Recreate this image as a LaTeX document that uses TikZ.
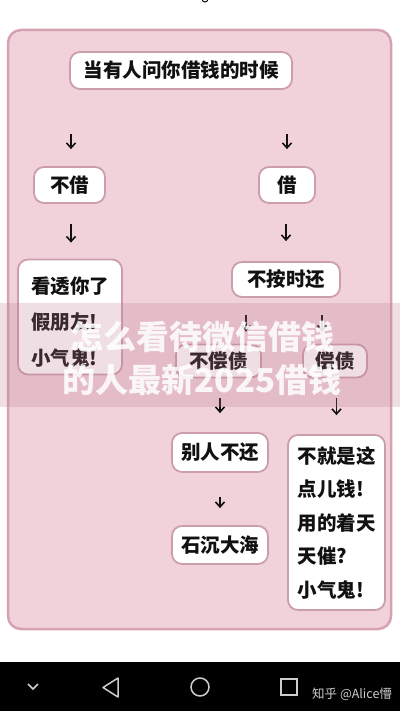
\documentclass[tikz,border=0pt]{standalone}
\usepackage{fontspec}
\setmainfont{Noto Sans CJK SC}
\usetikzlibrary{arrows.meta}
\definecolor{panelfill}{RGB}{241,210,218}
\definecolor{panelline}{RGB}{214,162,176}
\definecolor{boxline}{RGB}{204,158,170}
\definecolor{ink}{RGB}{17,17,17}
\definecolor{navgray}{RGB}{205,205,205}
\definecolor{bandcol}{RGB}{190,120,140}
\begin{document}
\begin{tikzpicture}[x=1pt,y=-1pt,
  box/.style={draw=boxline, line width=1.8pt, fill=white, rounded corners=10pt,
    inner sep=0pt, font=\fontsize{19.5}{22}\selectfont\bfseries, text=ink},
  arr/.style={draw=ink, line width=1.6pt,
    -{Straight Barb[length=5pt,width=9pt,line width=1.6pt]}},
  navicon/.style={draw=navgray, line width=1.5pt}]
\useasboundingbox (0,0) rectangle (400,711);
\fill[white] (0,0) rectangle (400,711);
% tiny cut-off mark at top
\draw[ink, line width=1pt] (205,-1) circle (3);
% panel
\draw[fill=panelfill, draw=panelline, line width=2.5pt, rounded corners=13pt]
  (8,30) rectangle (391,629);
% nodes
\node[box, minimum width=222pt, minimum height=37pt] (top) at (181,70.5) {当有人问你借钱的时候};
\node[box, minimum width=71pt, minimum height=36pt] (nb) at (69.5,185) {不借};
\node[box, minimum width=56pt, minimum height=36pt] (jie) at (287,185) {借};
\node[box, minimum width=104pt, minimum height=115pt, align=left,
  font=\fontsize{19.5}{36}\selectfont\bfseries] (kt) at (70,317) {\rule{0pt}{26pt}看透你了\\假朋友!\\小气鬼!};
\node[box, minimum width=108pt, minimum height=35pt] (buan) at (286,279.5) {不按时还};
\node[box, minimum width=85pt, minimum height=33pt] (bch) at (218.5,361) {不偿债};
\node[box, minimum width=64pt, minimum height=33pt] (ch) at (335,361) {偿债};
\node[box, minimum width=96pt, minimum height=39pt] (br) at (220,452.5) {别人不还};
\node[box, minimum width=96pt, minimum height=38pt] (sc) at (220,545) {石沉大海};
\node[box, minimum width=97pt, minimum height=175pt, align=left,
  font=\fontsize{19.5}{33.5}\selectfont\bfseries] (tall) at (336.5,522.5)
  {不就是这\\点儿钱!\\用的着天\\天催?\\小气鬼!};
% arrows
\draw[arr, shorten <=44pt, shorten >=17pt] (top.south -| 71,0) -- (nb.north -| 71,0);
\draw[arr, shorten <=44pt, shorten >=17pt] (top.south -| jie.north) -- (jie.north);
\draw[arr, shorten <=20pt, shorten >=16pt] (nb.south -| 71,0) -- (kt.north -| 71,0);
\draw[arr, shorten <=20pt, shorten >=20pt] (jie.south -| buan.north) -- (buan.north);
\draw[arr, shorten <=17pt, shorten >=12pt] ([xshift=-40pt]buan.south) -- ([xshift=-40pt]buan.south |- bch.north);
\draw[arr, shorten <=17pt, shorten >=12pt] ([xshift=36pt]buan.south) -- ([xshift=36pt]buan.south |- ch.north);
\draw[arr, shorten <=20pt, shorten >=19pt] (bch.south -| br.north) -- (br.north);
\draw[arr, shorten <=20pt, shorten >=19pt] (ch.south -| tall.north) -- (tall.north);
\draw[arr, shorten <=24pt, shorten >=17pt] (br.south) -- (sc.north);
% watermark band
\fill[bandcol, opacity=0.24] (0,303) rectangle (400,407);
\node[font=\fontsize{33}{43}\selectfont\bfseries, text=white, text opacity=0.85,
  align=center] (wm) at (202,358.5) {怎么看待微信借钱\\的人最新2025借钱};
% navigation bar
\fill[black] (0,662) rectangle (400,711);
\draw[navicon] (28,684) -- (33,689) -- (38,684);
\draw[navicon, line join=round] (118,678) -- (103,687.5) -- (118,697) -- cycle;
\draw[navicon] (200,687) circle (9);
\draw[navicon] (281,679) rectangle (297,695);
\node[font=\fontsize{12.5}{14}\selectfont, text=navgray, anchor=west, inner sep=0pt] (zh) at (312,694) {知乎 @Alice懵};
\end{tikzpicture}
\end{document}
